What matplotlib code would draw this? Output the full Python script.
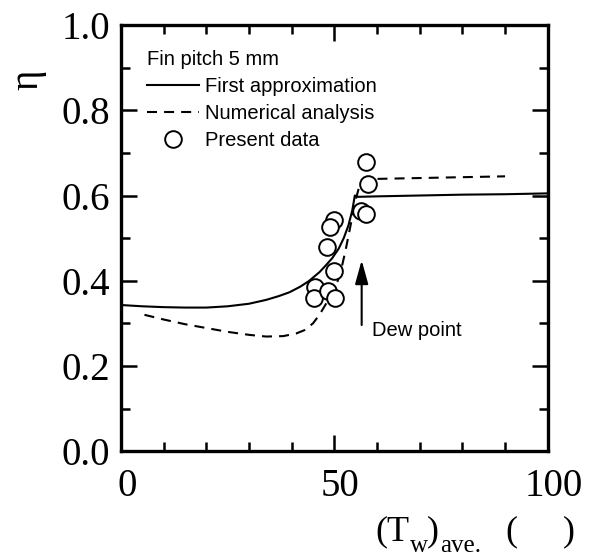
import matplotlib
matplotlib.use("Agg")
import matplotlib.pyplot as plt
import matplotlib.transforms as mtrans
from matplotlib.ticker import MultipleLocator, FuncFormatter

# ---------------- data ----------------
# first approximation (solid)
approx_x = [0, 5, 10, 15, 20, 25, 30, 34, 37, 39.5, 42, 44, 46.5, 48, 49.5, 51,
            52.2, 53.3, 54.2, 54.8, 55.3, 56, 60, 70, 80, 90, 100]
approx_y = [0.343, 0.340, 0.338, 0.337, 0.337, 0.340, 0.346, 0.355, 0.364, 0.373,
            0.386, 0.399, 0.420, 0.436, 0.453, 0.475, 0.500, 0.530, 0.565, 0.600,
            0.597, 0.597, 0.598, 0.600, 0.602, 0.603, 0.605]

# numerical analysis (dashed)
numer_x = [5.5, 10, 15, 20, 25, 30, 34, 38, 41, 43, 45, 46.5, 48, 49.5, 50.8,
           51.8, 52.6, 53.4, 54.2, 55, 55.8, 57, 60, 70, 80, 90]
numer_y = [0.320, 0.309, 0.298, 0.289, 0.280, 0.273, 0.269, 0.270, 0.276, 0.284,
           0.300, 0.320, 0.345, 0.372, 0.400, 0.435, 0.470, 0.510, 0.550, 0.590,
           0.620, 0.637, 0.639, 0.641, 0.643, 0.645]

# present data (circles)
data_x = [57.4, 57.8, 56.3, 57.4, 49.8, 49.0, 48.3, 50.0, 45.5, 45.3, 48.5, 50.1]
data_y = [0.678, 0.628, 0.564, 0.556, 0.542, 0.527, 0.479, 0.4225, 0.385, 0.360,
          0.377, 0.360]

dew_x = 56.4
dew_y0, dew_y1 = 0.296, 0.448

serif = "Liberation Serif"
sans = "Liberation Sans"

W, H = 596, 557
fig = plt.figure(figsize=(W / 100, H / 100), dpi=100)
ax = fig.add_axes([0.203, 0.190, 0.716, 0.765])

ax.plot(approx_x, approx_y, "-", color="black", lw=1.5,
        label="First approximation", zorder=2)
ax.plot(numer_x, numer_y, color="black", lw=1.5, dashes=(4.8, 3.4),
        label="Numerical analysis", zorder=2)
ax.plot(data_x, data_y, "o", ms=12, mfc="white", mec="black", mew=1.4,
        label="Present data", zorder=3, linestyle="none")

ax.annotate("", xy=(dew_x, dew_y1), xytext=(dew_x, dew_y0),
            arrowprops=dict(arrowstyle="-|>,head_length=0.72,head_width=0.2",
                            mutation_scale=20, lw=1.5, color="black",
                            shrinkA=0, shrinkB=0))
ax.text(58.8, 0.284, "Dew point", fontsize=14.5, family=sans, va="center", ha="left")

ax.set_xlim(0, 100)
ax.set_ylim(0, 1.0)

ax.xaxis.set_major_locator(MultipleLocator(50))
ax.xaxis.set_minor_locator(MultipleLocator(10))
ax.yaxis.set_major_locator(MultipleLocator(0.2))
ax.yaxis.set_minor_locator(MultipleLocator(0.1))
ax.xaxis.set_major_formatter(FuncFormatter(lambda v, p: "%d" % v))
ax.yaxis.set_major_formatter(FuncFormatter(lambda v, p: "%.1f" % v))

ax.tick_params(which="both", direction="in", top=True, right=True, width=1.8)
ax.tick_params(which="major", length=11.5)
ax.tick_params(which="minor", length=6.5)
ax.tick_params(axis="x", which="major", pad=12, labelsize=28)
ax.tick_params(axis="y", which="major", pad=8, labelsize=28)
shift = mtrans.ScaledTranslation(6 / 100, 0, fig.dpi_scale_trans)
for lab in ax.get_xticklabels():
    lab.set_family(serif)
    lab.set_transform(lab.get_transform() + shift)
for lab in ax.get_yticklabels():
    lab.set_family(serif)
for sp in ax.spines.values():
    sp.set_linewidth(2.4)

leg = ax.legend(title="Fin pitch 5 mm", loc="upper left",
                bbox_to_anchor=(0.06, 0.942), frameon=False,
                borderpad=0, borderaxespad=0, handlelength=2.6,
                handletextpad=0.3, labelspacing=0.4,
                prop={"family": sans, "size": 14.5},
                title_fontproperties={"family": sans, "size": 14.5},
                alignment="left")

fig.text(0.047, 0.857, "η", rotation=90, fontsize=28, family=serif,
         ha="center", va="center")

# x axis label built from pieces: (T_w)_ave. (   )
pieces = [("(T", 375, 540, 26), ("w", 410, 552, 18), (")", 427, 540, 26),
          ("ave.", 440, 552, 18), ("(", 505, 540, 26), (")", 563, 540, 26)]
for s, px, py, fs in pieces:
    fig.text(px / W, 1 - py / H, s, fontsize=fs, family=serif,
             ha="left", va="baseline")

fig.savefig("out.png", dpi=100)
